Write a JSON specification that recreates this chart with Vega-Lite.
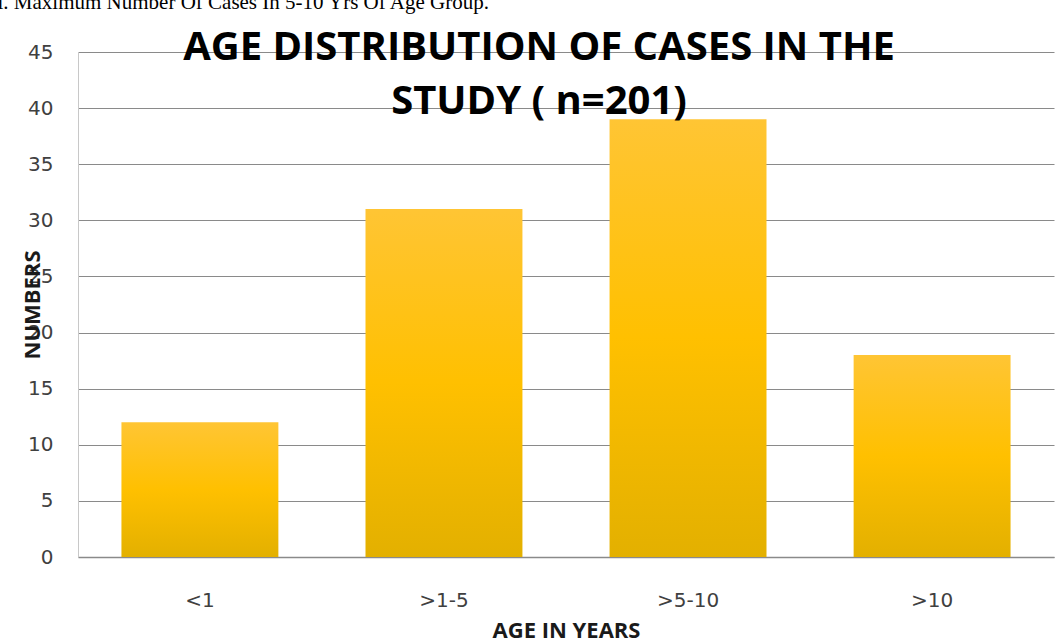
{
  "$schema": "https://vega.github.io/schema/vega-lite/v6.json",
  "autosize": {"type": "none"},
  "width": 976,
  "height": 505,
  "padding": {"left": 78, "top": 52, "right": 4, "bottom": 86},
  "background": "white",
  "title": {
    "text": ["AGE DISTRIBUTION OF CASES IN THE", "STUDY ( n=201)"],
    "font": "Open Sans",
    "fontSize": 40,
    "fontWeight": "bold",
    "lineHeight": 54,
    "color": "black",
    "anchor": "middle",
    "frame": "group",
    "dx": -27,
    "dy": 135
  },
  "data": {
    "values": [
      {"age": "<1", "count": 12},
      {"age": ">1-5", "count": 31},
      {"age": ">5-10", "count": 39},
      {"age": ">10", "count": 18}
    ]
  },
  "layer": [
    {
      "mark": {
        "type": "bar",
        "color": {
          "gradient": "linear",
          "x1": 0, "y1": 0, "x2": 0, "y2": 1,
          "stops": [
            {"offset": 0, "color": "#FFC534"},
            {"offset": 0.5, "color": "#FFC000"},
            {"offset": 1, "color": "#E3B000"}
          ]
        }
      },
      "encoding": {
        "x": {
          "field": "age",
          "type": "nominal",
          "sort": null,
          "scale": {"paddingInner": 0.357, "paddingOuter": 0.178},
          "axis": {
            "orient": "bottom",
            "title": "AGE IN YEARS",
            "titleFont": "Open Sans",
            "titleFontSize": 22,
            "titleFontWeight": "bold",
            "titleColor": "#1a1a1a",
            "titleBaseline": "alphabetic",
            "titleY": 80,
            "labelAngle": 0,
            "labelFont": "DejaVu Sans",
            "labelFontSize": 20,
            "labelColor": "#404040",
            "labelPadding": 33,
            "ticks": false,
            "domainColor": "#8a8a8a",
            "domainWidth": 1.5,
            "grid": false
          }
        },
        "y": {
          "field": "count",
          "type": "quantitative",
          "scale": {"domain": [0, 45], "nice": false},
          "axis": {
            "values": [0, 5, 10, 15, 20, 25, 30, 35, 40, 45],
            "title": "NUMBERS",
            "titleFont": "Open Sans",
            "titleFontSize": 22,
            "titleFontWeight": "bold",
            "titleColor": "#1a1a1a",
            "titleBaseline": "middle",
            "titleX": -46,
            "labelFont": "DejaVu Sans",
            "labelFontSize": 20,
            "labelColor": "#404040",
            "labelPadding": 25,
            "ticks": false,
            "domainColor": "#c8c8c8",
            "grid": true,
            "gridColor": "#8a8a8a",
            "gridWidth": 1
          }
        }
      }
    },
    {
      "mark": {"type": "bar", "opacity": 0},
      "encoding": {
        "x": {
          "field": "age",
          "type": "nominal",
          "sort": null,
          "axis": {
            "orient": "top",
            "title": "i. Maximum Number Of Cases In 5-10 Yrs Of Age Group.",
            "titleFont": "Liberation Serif",
            "titleFontSize": 21,
            "titleFontWeight": "normal",
            "titleColor": "black",
            "titleAlign": "left",
            "titleBaseline": "alphabetic",
            "titleX": -81,
            "titleY": -44,
            "labels": false,
            "ticks": false,
            "domain": false,
            "grid": false
          }
        },
        "y": {"field": "count", "type": "quantitative"}
      }
    }
  ],
  "resolve": {"axis": {"x": "independent"}},
  "config": {"view": {"stroke": null}}
}
